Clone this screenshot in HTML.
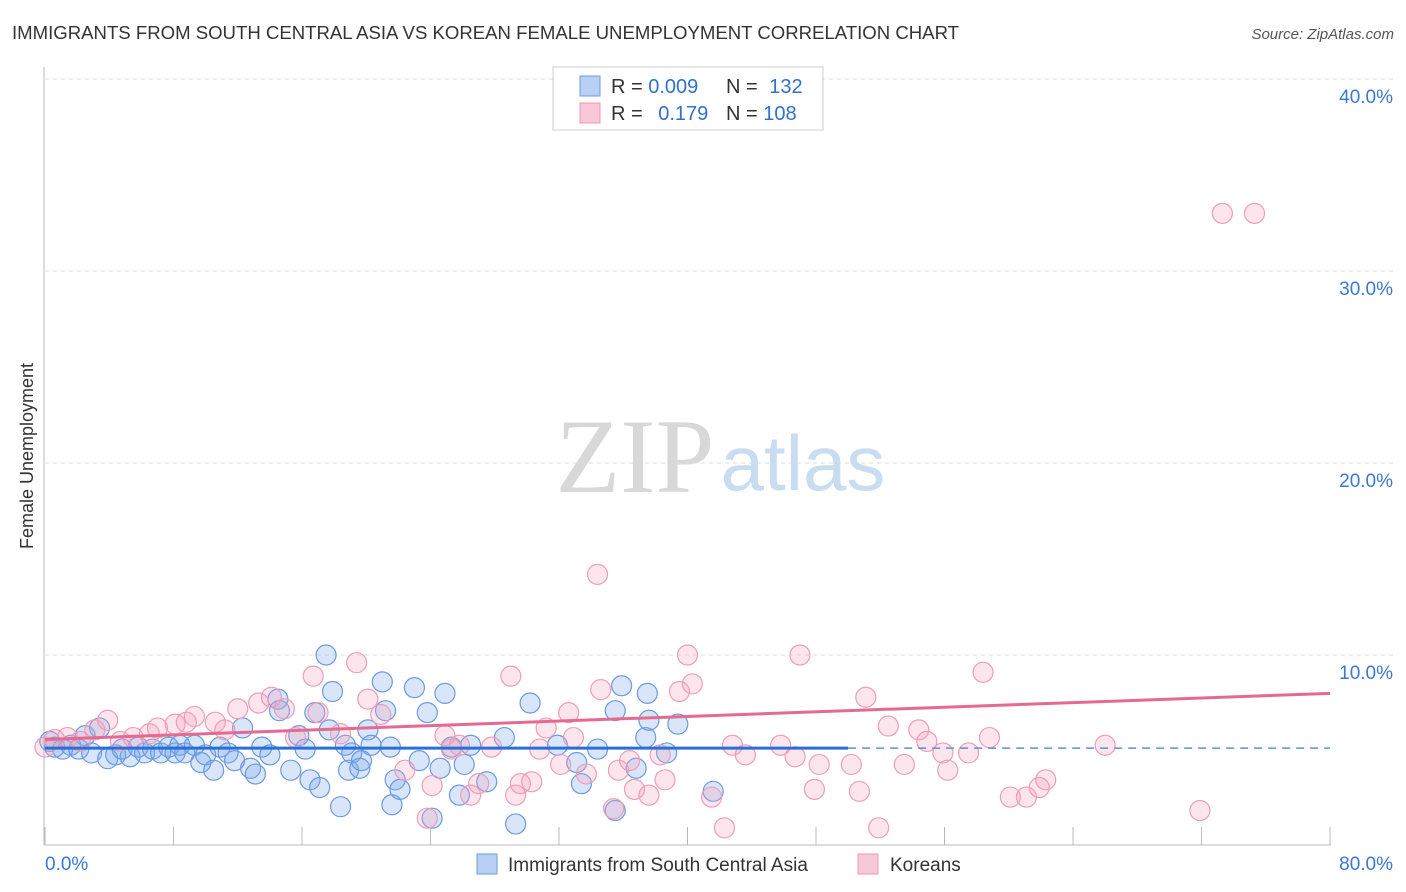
<!DOCTYPE html>
<html><head><meta charset="utf-8"><style>
body{margin:0;background:#fff;font-family:"Liberation Sans",sans-serif;}
svg{display:block}
</style></head><body>
<svg id="chart" width="1406" height="892">
<text x="12" y="39" font-size="18" fill="#333" textLength="947" lengthAdjust="spacingAndGlyphs">IMMIGRANTS FROM SOUTH CENTRAL ASIA VS KOREAN FEMALE UNEMPLOYMENT CORRELATION CHART</text>
<text x="1394" y="39" font-size="15" fill="#555" font-style="italic" text-anchor="end">Source: ZipAtlas.com</text>
<text x="33" y="456" font-size="18" fill="#333" text-anchor="middle" transform="rotate(-90 33 456)">Female Unemployment</text>
<g>
<text x="635" y="492" font-size="106" fill="#d8d8d8" font-family="Liberation Serif,serif" text-anchor="middle">ZIP</text>
<text x="803" y="490" font-size="78" fill="#c8dcf2" text-anchor="middle">atlas</text>
</g>
<g id="grid"></g>
<g id="axes"></g>
<g id="points"></g>
<g id="trends"></g>
<g>
<rect x="553" y="67" width="270" height="63" fill="#fff" stroke="#ccc"/>
<rect x="580" y="76" width="20" height="20" fill="#b8d0f4" stroke="#6a9ee0"/>
<rect x="580" y="103" width="20" height="20" fill="#f8c8d8" stroke="#eb9ab5"/>
<text x="611" y="93" font-size="20" fill="#333">R = <tspan fill="#3070d0">0.009</tspan></text>
<text x="726" y="93" font-size="20" fill="#333">N = <tspan fill="#3070d0" dx="6">132</tspan></text>
<text x="611" y="120" font-size="20" fill="#333">R = <tspan fill="#3070d0" dx="10">0.179</tspan></text>
<text x="726" y="120" font-size="20" fill="#333">N = <tspan fill="#3070d0">108</tspan></text>
</g>
<g>
<rect x="477" y="854" width="20" height="20" fill="#b8d0f4" stroke="#6a9ee0"/>
<text x="508" y="871" font-size="19" fill="#333">Immigrants from South Central Asia</text>
<rect x="858" y="854" width="20" height="20" fill="#f8c8d8" stroke="#eb9ab5"/>
<text x="890" y="871" font-size="19" fill="#333">Koreans</text>
</g>
</svg>
<script>
const yTicks=[10,20,30,40];
const yTickLabels=["10.0%","20.0%","30.0%","40.0%"];
const xTickValues=[0,8,16,24,32,40,48,56,64,72,80];
const blueX=[0.3,0.6,1.1,1.6,2.1,2.5,2.9,3.4,3.9,4.4,4.8,5.3,5.8,6.2,6.7,7.2,7.7,8.1,8.4,8.7,9.3,9.7,10.0,10.5,10.9,11.4,11.8,12.3,12.8,13.1,13.5,14.0,14.5,14.6,15.3,15.8,16.2,16.5,16.8,17.1,17.5,17.7,17.9,18.4,18.7,18.9,19.1,19.6,19.7,20.1,20.3,21.0,21.2,21.5,21.8,21.6,22.1,23.0,23.3,23.8,24.1,24.6,24.9,25.3,25.8,26.1,26.5,27.5,28.6,29.3,30.2,31.9,33.1,33.4,34.4,35.5,35.5,35.9,36.8,37.4,37.5,37.6,38.7,39.4,41.6];
const blueY=[5.5,5.2,5.1,5.3,5.1,5.8,4.9,6.2,4.6,4.8,5.1,4.7,5.2,4.9,5.1,4.9,5.2,4.9,5.3,4.9,5.3,4.4,4.8,4.0,5.2,4.9,4.5,6.2,4.1,3.8,5.2,4.8,7.7,7.1,4.0,5.8,5.1,3.5,7.0,3.1,10.0,6.1,8.1,2.1,5.3,4.0,4.9,4.1,4.5,6.1,5.3,8.6,7.1,5.2,3.5,2.2,3.0,8.3,4.5,7.0,1.5,4.1,8.0,5.2,2.7,4.3,5.3,3.4,5.7,1.2,7.5,5.3,4.4,3.3,5.1,1.9,7.1,8.4,4.1,5.7,8.0,6.6,4.9,6.4,2.9];
const pinkX=[0,0.6,1.4,2.2,3.1,3.9,4.7,5.5,6.5,7.0,8.1,8.8,9.3,10.6,11.2,12.0,13.3,14.1,14.9,15.6,16.7,17.0,18.4,19.4,20.1,20.9,22.4,23.8,24.1,24.9,25.3,25.8,26.5,27.0,27.8,29.0,29.3,29.6,30.3,30.8,31.2,32.1,32.6,32.9,33.7,34.4,34.6,35.4,35.7,36.4,36.7,37.6,38.3,38.6,39.5,40.0,40.3,41.5,42.3,42.8,43.6,45.8,46.7,47.0,47.9,48.2,50.2,50.7,51.1,51.9,52.5,53.5,54.4,54.9,55.9,56.2,57.5,58.4,58.8,60.1,61.1,61.9,62.3,66.0,71.9,73.3,75.3];
const pinkY=[5.2,5.6,5.7,5.5,6.1,6.6,5.5,5.7,5.9,6.2,6.4,6.5,6.8,6.5,6.1,7.2,7.5,7.8,7.2,5.7,8.9,7.0,5.9,9.6,7.7,6.9,4.0,1.5,3.2,5.8,5.1,5.3,2.7,3.3,5.2,8.9,2.7,3.3,3.4,5.1,6.2,4.3,7.0,5.7,3.8,14.2,8.2,2.0,4.0,4.5,3.0,2.7,4.8,3.5,8.1,10.0,8.5,2.6,1.0,5.3,4.8,5.3,4.7,10.0,3.0,4.3,4.3,2.9,7.8,1.0,6.3,4.3,6.1,5.5,4.9,4.0,4.9,9.1,5.7,2.6,2.6,3.1,3.5,5.3,1.9,33.0,33.0];
const blueTrend=[5.15,5.15];
const pinkTrend=[5.6,8.0];
const blueSolidEnd=50;

const X0=45,X1=1330,Y0=847,PXPER=19.2;
const sx=v=>X0+(X1-X0)*v/80;
const sy=v=>Y0-v*PXPER;
const NS="http://www.w3.org/2000/svg";
function mk(tag,attrs,parent){const e=document.createElementNS(NS,tag);for(const k in attrs)e.setAttribute(k,attrs[k]);parent.appendChild(e);return e;}
const grid=document.getElementById('grid'),axes=document.getElementById('axes'),pts=document.getElementById('points'),tr=document.getElementById('trends');
yTicks.forEach((t,i)=>{
 const l=mk('line',{x1:45,x2:1395,y1:sy(t),y2:sy(t),stroke:'#ddd','stroke-dasharray':'4,4'},grid);
 
 
 const tx=mk('text',{x:1393,y:sy(t)+24,'font-size':19,fill:'#3a78d4','text-anchor':'end'},axes);
 tx.textContent=yTickLabels[i];
 
 
});
const ya=mk('line',{x1:44,x2:44,y1:67,y2:845,stroke:'#bbb'},axes);


const xa=mk('line',{x1:44,x2:1331,y1:845,y2:845,stroke:'#bbb'},axes);


xTickValues.forEach(v=>{
 const t=mk('line',{x1:sx(v),x2:sx(v),y1:827,y2:845,stroke:'#bbb'},axes);
 
 
});
const xl0=mk('text',{x:45,y:870,'font-size':19,fill:'#3a78d4'},axes);xl0.textContent='0.0%';


const xl1=mk('text',{x:1393,y:870,'font-size':19,fill:'#3a78d4','text-anchor':'end'},axes);xl1.textContent='80.0%';


blueX.forEach((x,i)=>{
 const c=mk('circle',{cx:sx(x),cy:sy(blueY[i]),r:10,fill:'rgba(120,165,235,0.28)',stroke:'#6a9ae0','stroke-width':1.2},pts);
 
 
});
pinkX.forEach((x,i)=>{
 const c=mk('circle',{cx:sx(x),cy:sy(pinkY[i]),r:10,fill:'rgba(245,160,190,0.28)',stroke:'#ee9db8','stroke-width':1.2},pts);
 
 
});
const bAt=x=>blueTrend[0]+(blueTrend[1]-blueTrend[0])*x/80;
const b1=mk('line',{x1:sx(0),y1:sy(bAt(0)),x2:sx(blueSolidEnd),y2:sy(bAt(blueSolidEnd)),stroke:'#2a6fd8','stroke-width':3},tr);


const b2=mk('line',{x1:sx(blueSolidEnd),y1:sy(bAt(blueSolidEnd)),x2:sx(80),y2:sy(bAt(80)),stroke:'#5a90dc','stroke-width':1.5,'stroke-dasharray':'8,6'},tr);


const p1=mk('line',{x1:sx(0),y1:sy(pinkTrend[0]),x2:sx(80),y2:sy(pinkTrend[1]),stroke:'#e46a92','stroke-width':3},tr);


</script>
</body></html>
